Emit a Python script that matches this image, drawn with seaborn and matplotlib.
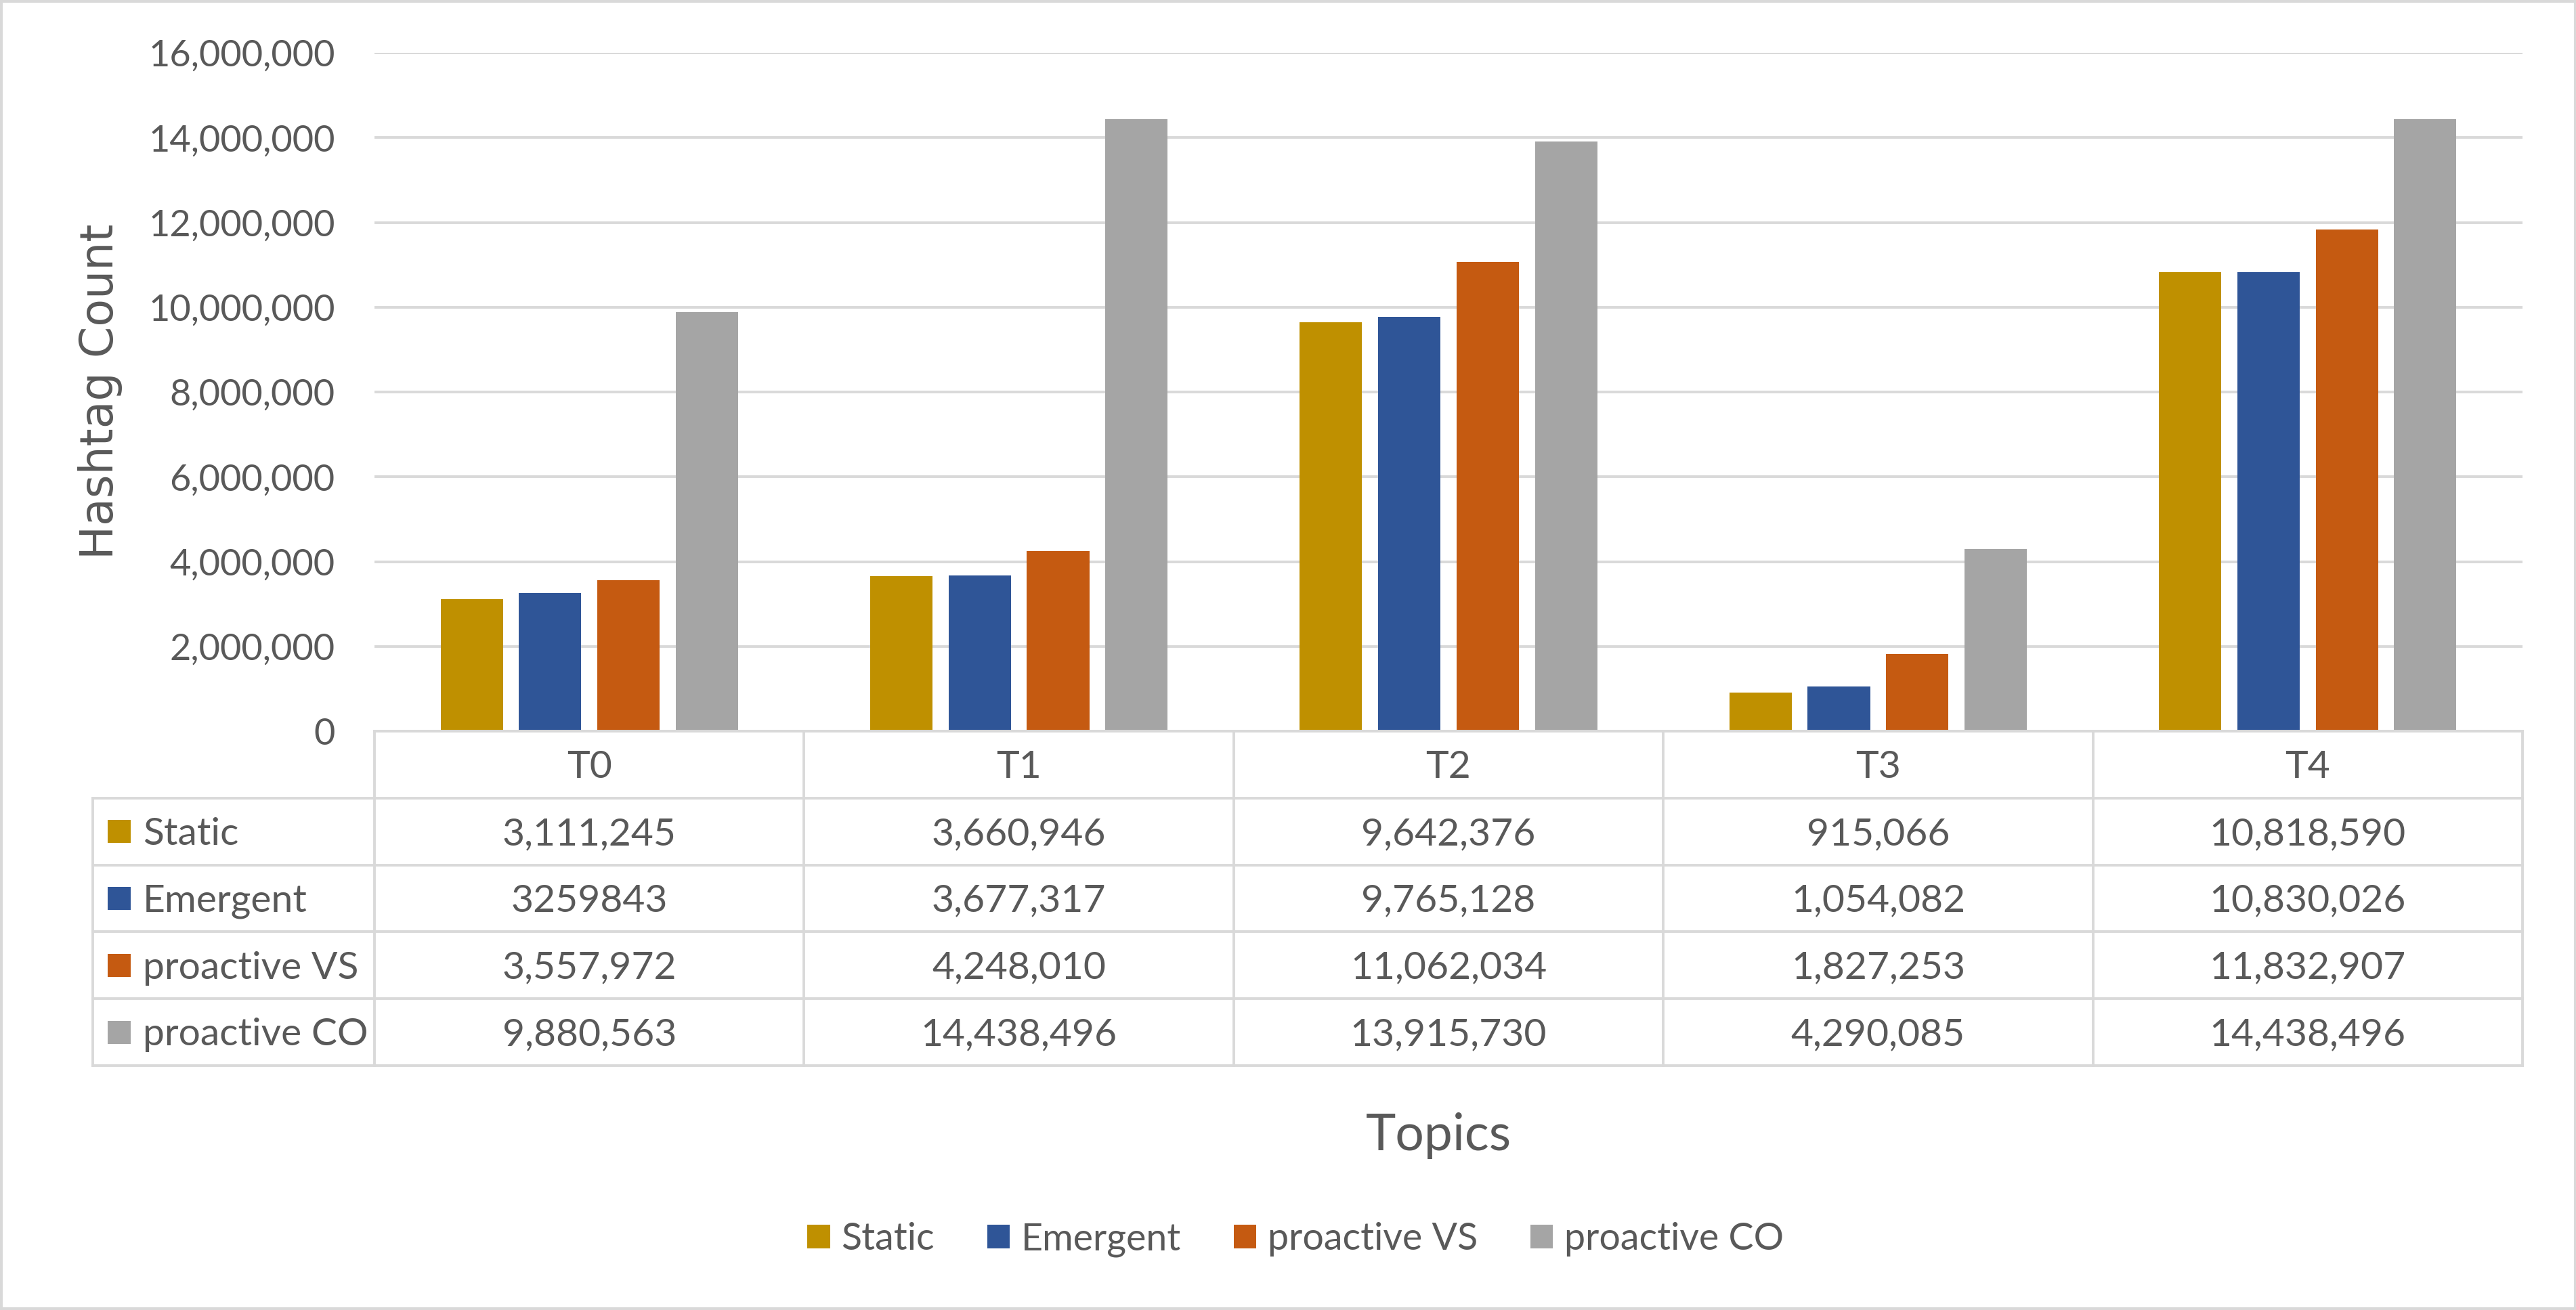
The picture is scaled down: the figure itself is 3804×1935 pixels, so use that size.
import numpy as np
import pandas as pd
import seaborn as sns
import matplotlib.pyplot as plt
from matplotlib.patches import Rectangle
from matplotlib.ticker import FuncFormatter

# chart data
topics = ['T0', 'T1', 'T2', 'T3', 'T4']
series = ['Static', 'Emergent', 'proactive VS', 'proactive CO']
static = [3111245, 3660946, 9642376, 915066, 10818590]
emergent = [3259843, 3677317, 9765128, 1054082, 10830026]
proactive_vs = [3557972, 4248010, 11062034, 1827253, 11832907]
proactive_co = [9880563, 14438496, 13915730, 4290085, 14438496]
colors = ['#BF9000', '#2F5597', '#C55A11', '#A5A5A5']
y_ticks = list(range(0, 16000001, 2000000))
# the one cell of the data table that is shown without thousands separators
plain_cells = [('Emergent', 'T0')]

TEXT = '#595959'
LINE = '#D9D9D9'

sns.set_theme(style='white')
plt.rcParams['font.family'] = ['Lato', 'DejaVu Sans']

values = [static, emergent, proactive_vs, proactive_co]
df = pd.DataFrame({
    'Topic': [t for s in series for t in topics],
    'Series': [s for s in series for t in topics],
    'Count': [v for vals in values for v in vals],
})

W, H = 3805, 1935
fig = plt.figure(figsize=(W / 100, H / 100), dpi=100)

# plot area in pixels of the reference
px_left, px_right = 553, 3725
px_top, px_zero = 78, 1080
px_table_bottom = 1574
ax = fig.add_axes([px_left / W, 1 - px_zero / H,
                   (px_right - px_left) / W, (px_zero - px_top) / H])

sns.barplot(data=df, x='Topic', y='Count', hue='Series', order=topics,
            hue_order=series, palette=colors, saturation=1, width=0.73,
            gap=0.205, linewidth=0, errorbar=None, ax=ax)
ax.set_xlim(-0.5, 4.5)
ax.set_ylim(0, 16000000)
ax.set_yticks(y_ticks)
ax.yaxis.set_major_formatter(FuncFormatter(lambda v, p: f'{int(v):,}'))
ax.tick_params(axis='y', length=0, pad=42, labelsize=39, labelcolor=TEXT)
ax.set_xticks([])
ax.set_xlabel('')
ax.set_ylabel('')
for sp in ax.spines.values():
    sp.set_visible(False)
ax.grid(axis='y', color=LINE, lw=2.8)
ax.set_axisbelow(True)

handles, labels = ax.get_legend_handles_labels()
ax.legend(handles, labels, loc='center', ncol=4, frameon=False,
          bbox_to_anchor=(1913 / W, 1 - 1831 / H),
          bbox_transform=fig.transFigure, fontsize=40, labelcolor=TEXT,
          handlelength=0.6, handleheight=0.6, handletextpad=0.3,
          columnspacing=1.4)

# data table under the plot, sharing the category positions
tab = fig.add_axes([px_left / W, 1 - px_table_bottom / H,
                    (px_right - px_left) / W,
                    (px_table_bottom - px_zero) / H])
tab.set_xlim(-0.5, 4.5)
tab.set_ylim(5, 0)
tab.axis('off')
col_w = (px_right - px_left) / 5
x_left = -0.5 - (px_left - 137) / col_w
lkw = dict(color=LINE, lw=2.8, clip_on=False, solid_capstyle='projecting')
tab.plot([-0.5, 4.5], [0, 0], **lkw)
for r in range(1, 6):
    tab.plot([x_left, 4.5], [r, r], **lkw)
for c in range(6):
    tab.plot([c - 0.5, c - 0.5], [0, 5], **lkw)
tab.plot([x_left, x_left], [1, 5], **lkw)

for i, t in enumerate(topics):
    tab.text(i, 0.5 + 0.2, t, ha='center', va='baseline', fontsize=41,
             color=TEXT)
sq_x = -0.5 - (px_left - 176) / col_w
txt_x = -0.5 - (px_left - 211) / col_w
for r, (name, vals, col) in enumerate(zip(series, values, colors), start=1):
    tab.scatter([sq_x], [r + 0.5], marker='s', s=24.5 ** 2, color=col,
                linewidths=0, clip_on=False)
    tab.text(txt_x, r + 0.7, name, ha='left', va='baseline', fontsize=41,
             color=TEXT)
    for i, (t, v) in enumerate(zip(topics, vals)):
        label = str(v) if (name, t) in plain_cells else f'{v:,}'
        tab.text(i, r + 0.7, label, ha='center', va='baseline',
                 fontsize=41, color=TEXT)

fig.text(148 / W, 1 - 578 / H, 'Hashtag Count', rotation=90, ha='center',
         va='center', fontsize=48, color=TEXT, family='DejaVu Sans')
fig.text(2124 / W, 1 - 1699 / H, 'Topics', ha='center', va='baseline',
         fontsize=54, color=TEXT)

fig.patches.append(Rectangle((0.0006, 0.0012), 0.9988, 0.9976,
                             transform=fig.transFigure, fill=False,
                             ec=LINE, lw=3))

fig.savefig('out.png', dpi=100)
